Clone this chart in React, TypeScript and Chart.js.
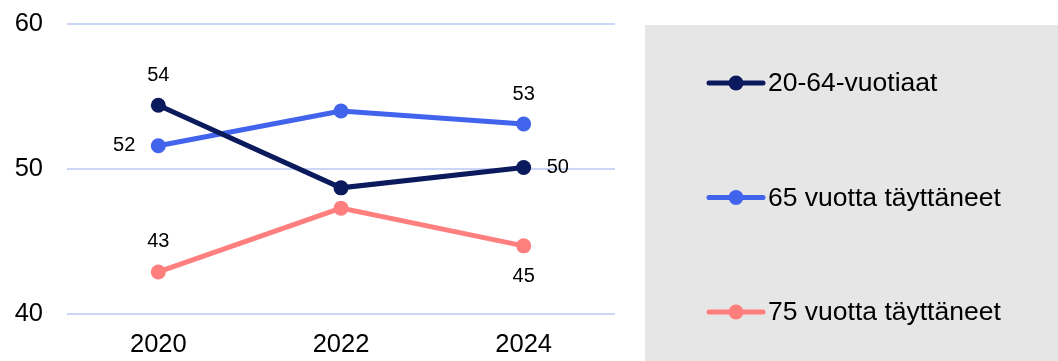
import { useEffect, useRef } from "react";
import { Chart, registerables } from "chart.js";

Chart.register(...registerables);

const categories = ["2020", "2022", "2024"];
const seriesNames = ["20-64-vuotiaat", "65 vuotta täyttäneet", "75 vuotta täyttäneet"];
const values2064 = [54.4, 48.7, 50.1];
const values65 = [51.6, 54.0, 53.1];
const values75 = [42.9, 47.3, 44.7];
const yTicks = [40, 50, 60];

const seriesColors = ["#0b1a5c", "#4263eb", "#ff7f7f"];
const labelPlacements: (string | null)[][] = [
  ["above", null, "right"],
  ["left", null, "above"],
  ["above", null, "below"],
];

const FONT = "'Liberation Sans', Arial, sans-serif";

const dataLabelPlugin = {
  id: "dataLabels",
  afterDatasetsDraw(chart: any) {
    const ctx = chart.ctx;
    ctx.save();
    ctx.font = `20px ${FONT}`;
    ctx.fillStyle = "#000";
    chart.data.datasets.forEach((ds: any, i: number) => {
      const meta = chart.getDatasetMeta(i);
      meta.data.forEach((pt: any, j: number) => {
        const place = labelPlacements[i][j];
        if (!place) return;
        const text = String(Math.round(ds.data[j]));
        let x = pt.x;
        let y = pt.y;
        ctx.textBaseline = "middle";
        if (place === "above") {
          ctx.textAlign = "center";
          y -= 30;
        } else if (place === "below") {
          ctx.textAlign = "center";
          y += 31;
        } else if (place === "left") {
          ctx.textAlign = "right";
          x -= 23;
        } else {
          ctx.textAlign = "left";
          x += 23;
        }
        ctx.fillText(text, x, y);
      });
    });
    ctx.restore();
  },
};

const legendPlugin = {
  id: "sideLegend",
  afterDraw(chart: any) {
    const ctx = chart.ctx;
    const W = chart.width;
    const H = chart.height;
    ctx.save();
    ctx.fillStyle = "#e6e6e6";
    ctx.fillRect(645, 25, W - 645, H - 25);
    chart.data.datasets.forEach((ds: any, i: number) => {
      const y = 83 + i * 114.5;
      ctx.strokeStyle = ds.borderColor;
      ctx.lineWidth = 5;
      ctx.lineCap = "round";
      ctx.beginPath();
      ctx.moveTo(709, y);
      ctx.lineTo(763, y);
      ctx.stroke();
      ctx.fillStyle = ds.borderColor;
      ctx.beginPath();
      ctx.arc(736, y, 7.5, 0, Math.PI * 2);
      ctx.fill();
      ctx.fillStyle = "#000";
      ctx.font = `26.5px ${FONT}`;
      ctx.textAlign = "left";
      ctx.textBaseline = "middle";
      ctx.fillText(ds.label, 768, y + 1);
    });
    ctx.restore();
  },
};

export default function App() {
  const canvasRef = useRef<HTMLCanvasElement | null>(null);

  useEffect(() => {
    document.body.style.margin = "0";
    const canvas = canvasRef.current;
    if (!canvas) return;
    const seriesValues = [values2064, values65, values75];
    const chart = new Chart(canvas, {
      type: "line",
      data: {
        labels: categories,
        datasets: seriesNames.map((name, i) => ({
          label: name,
          data: seriesValues[i],
          borderColor: seriesColors[i],
          backgroundColor: seriesColors[i],
          pointBackgroundColor: seriesColors[i],
          pointBorderWidth: 0,
          pointRadius: 7.5,
          borderWidth: 5,
          tension: 0,
          clip: false as any,
        })),
      },
      options: {
        animation: false,
        responsive: false,
        maintainAspectRatio: false,
        layout: { padding: { top: 24, right: 443, left: 0, bottom: 0 } },
        plugins: {
          legend: { display: false },
          tooltip: { enabled: false },
        },
        scales: {
          x: {
            offset: true,
            grid: { display: false },
            border: { display: false },
            ticks: {
              color: "#000",
              font: { family: FONT, size: 25.5 },
              padding: 8,
              maxRotation: 0,
            },
            afterFit(scale: any) {
              scale.height = 47;
              scale.paddingLeft = 0;
              scale.paddingRight = 0;
            },
          },
          y: {
            min: 40,
            max: 60,
            afterBuildTicks(scale: any) {
              scale.ticks = yTicks.map((v) => ({ value: v }));
            },
            grid: { color: "#ccd6f6", lineWidth: 2, drawTicks: false },
            border: { display: false },
            ticks: {
              color: "#000",
              font: { family: FONT, size: 25.5 },
              padding: 24,
            },
            afterFit(scale: any) {
              scale.width = 67;
              scale.paddingTop = 0;
              scale.paddingBottom = 0;
            },
          },
        },
      },
      plugins: [dataLabelPlugin, legendPlugin],
    });
    return () => chart.destroy();
  }, []);

  return (
    <div style={{ position: "absolute", left: 0, top: 0, width: 1058, height: 361 }}>
      <canvas ref={canvasRef} width={1058} height={361} />
    </div>
  );
}
